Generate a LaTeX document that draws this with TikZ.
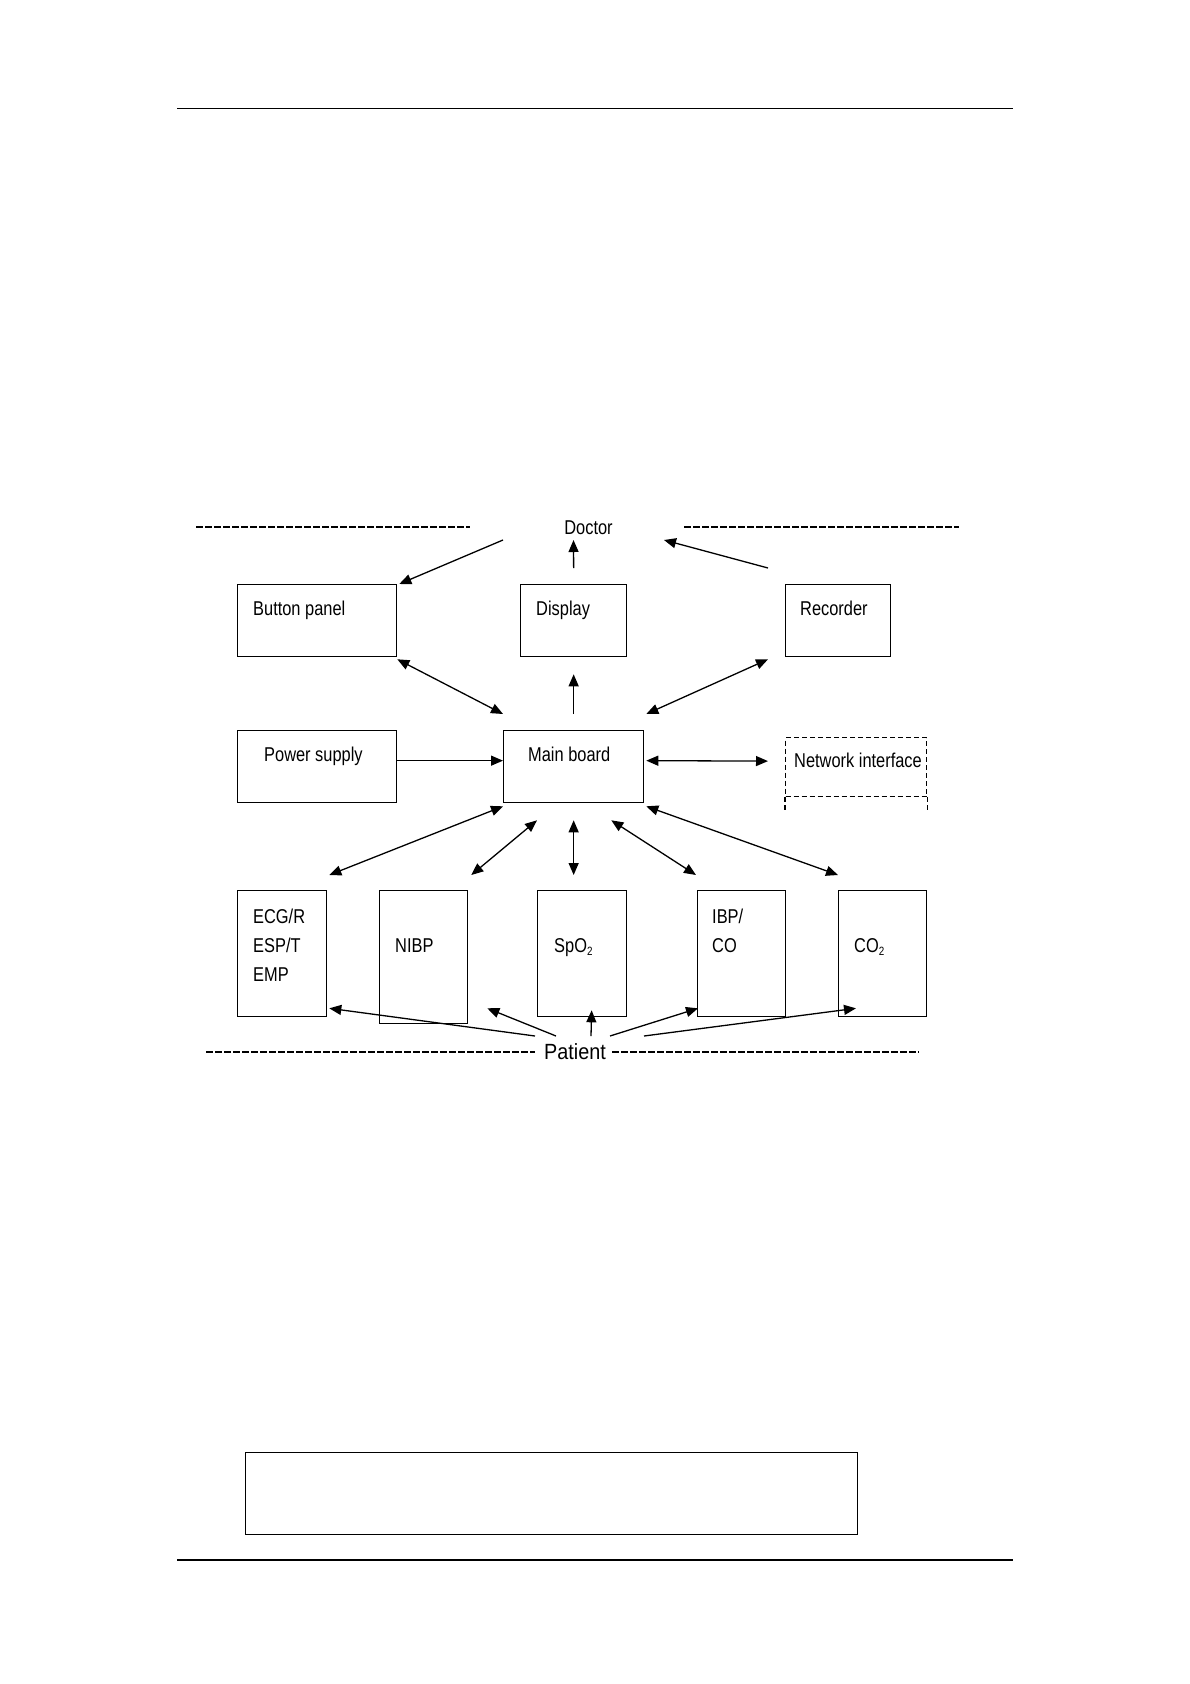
\documentclass[tikz,border=0pt]{standalone}
\usepackage{fontspec}
\setmainfont{Liberation Sans}
\newfontfamily\diagfont[FakeStretch=0.82]{Liberation Sans}
\newfontfamily\patfont[FakeStretch=0.9]{Liberation Sans}
\usetikzlibrary{arrows.meta}
\newcommand{\subtwo}{\raisebox{-3pt}{\fontsize{12}{12}\selectfont 2}}
\begin{document}
\begin{tikzpicture}[x=1pt,y=-1pt]
\tikzset{
 box/.style={draw, line width=1.3pt, anchor=north west, inner sep=0pt},
 lbl/.style={font=\diagfont\fontsize{20}{24}\selectfont, anchor=base west, inner sep=0pt},
 conn/.style={line width=1.3pt, -{Triangle[length=12pt,width=10pt]}},
 dbl/.style={line width=1.3pt, {Triangle[length=12pt,width=10pt]}-{Triangle[length=12pt,width=10pt]}},
 sep/.style={line width=1.3pt, dash pattern=on 7pt off 2pt},
 rule/.style={line width=1.5pt},
}
\useasboundingbox (0,0) rectangle (1190,1684);
\fill[white] (0,0) rectangle (1190,1684);
% page rules and frame
\draw[rule] (177,108.5) -- (1013,108.5);
\draw[rule] (177,1560) -- (1013,1560);
\node[box, line width=1.2pt, minimum width=612pt, minimum height=82pt] (frame) at (245,1452) {};
% boxes
\node[box, minimum width=159pt, minimum height=72pt] (bp) at (237,584) {};
\node[box, minimum width=106pt, minimum height=72pt] (disp) at (520,584) {};
\node[box, minimum width=105pt, minimum height=72pt] (rec) at (785,584) {};
\node[box, minimum width=159pt, minimum height=72pt] (ps) at (237,730) {};
\node[box, minimum width=140pt, minimum height=72pt] (main) at (503,730) {};
\node[box, line width=1.2pt, dash pattern=on 5pt off 3pt, minimum width=141pt, minimum height=59pt] (net) at (785,737) {};
\draw[line width=1.2pt, dash pattern=on 5pt off 3pt] (net.south west) -- ([yshift=-15pt]net.south west);
\draw[line width=1.2pt, dash pattern=on 5pt off 3pt] (net.south east) -- ([yshift=-15pt]net.south east);
\node[box, minimum width=89pt, minimum height=126pt] (ecg) at (237,890) {};
\node[box, minimum width=88pt, minimum height=133pt] (nibp) at (379,890) {};
\node[box, minimum width=89pt, minimum height=126pt] (spo2) at (537,890) {};
\node[box, minimum width=88pt, minimum height=126pt] (ibp) at (697,890) {};
\node[box, minimum width=88pt, minimum height=126pt] (co2) at (838,890) {};
% labels
\node[lbl] (tbp) at (253,615) {Button panel};
\node[lbl] (tdisp) at (536,615) {Display};
\node[lbl] (trec) at (800,615) {Recorder};
\node[lbl] (tps) at (264,761) {Power supply};
\node[lbl] (tmain) at (528,761) {Main board};
\node[lbl] (tnet) at (794,767) {Network interface};
\node[lbl] (tecg1) at (253,923) {ECG/R};
\node[lbl] (tecg2) at (253,952) {ESP/T};
\node[lbl] (tecg3) at (253,981) {EMP};
\node[lbl] (tnibp) at (395,952) {NIBP};
\node[lbl] (tspo) at (554,952) {SpO\subtwo};
\node[lbl] (tibp1) at (712,923) {IBP/};
\node[lbl] (tibp2) at (712,952) {CO};
\node[lbl] (tco2) at (854,952) {CO\subtwo};
\node[lbl, anchor=base] (doctor) at (588.5,534) {Doctor};
\node[font=\patfont\fontsize{22}{26}\selectfont, anchor=base, inner sep=0pt] (patient) at (575,1059) {Patient};
% separators
\draw[sep] (196,527) -- (470,527);
\draw[sep] (684,527) -- (959,527);
\draw[sep] (206,1052) -- (535,1052);
\draw[sep] (612,1052) -- (919,1052);
% free ends near Doctor and Patient
\coordinate (docL) at (503,540);
\coordinate (docM) at (573.5,540);
\coordinate (docR) at (664,540);
\coordinate (patA) at (535,1036);
\coordinate (patB) at (556,1036);
\coordinate (patC) at (591,1036);
\coordinate (patD) at (610,1036);
\coordinate (patE) at (644,1036);
\coordinate (spx) at (main.south |- spo2.north);
% top connectors
\draw[conn] ([yshift=16pt]disp.north) -- (docM);
\draw[conn] (docL) -- ([xshift=2pt]bp.north east);
\draw[conn] ([xshift=-17pt,yshift=16pt]rec.north west) -- (docR);
\draw[dbl] ([yshift=-2pt]bp.south east) -- ([yshift=16pt]main.north west);
\draw[conn] ([yshift=16pt]main.north) -- ([yshift=-17pt]disp.south);
\draw[dbl] ([xshift=2pt,yshift=16pt]main.north east) -- ([xshift=-17pt,yshift=-2pt]rec.south west);
\draw[conn] ([yshift=6pt]ps.east) -- ([yshift=6pt]main.west);
\draw[dbl] ([xshift=2pt,yshift=6pt]main.east) -- ([xshift=-17pt,yshift=6pt]net.west);
% bottom connectors
\draw[dbl] ([yshift=-3pt]main.south west) -- ([xshift=2pt,yshift=15pt]ecg.north east);
\draw[dbl] ([xshift=34pt,yshift=-17pt]main.south west) -- ([xshift=3pt,yshift=15pt]nibp.north east);
\draw[dbl] ([yshift=-17pt]main.south) -- ([yshift=15pt]spx);
\draw[dbl] ([xshift=-33pt,yshift=-17pt]main.south east) -- ([xshift=-1pt,yshift=15pt]ibp.north west);
\draw[dbl] ([xshift=2pt,yshift=-3pt]main.south east) -- ([yshift=15pt]co2.north west);
% patient connectors
\draw[conn] (patA) -- ([xshift=2pt,yshift=9pt]ecg.south east);
\draw[conn] (patB) -- ([xshift=19pt,yshift=16pt]nibp.south east);
\draw[conn] (patC) -- ([xshift=9.5pt,yshift=7pt]spo2.south);
\draw[conn] (patD) -- ([xshift=1pt,yshift=9pt]ibp.south west);
\draw[conn] (patE) -- ([xshift=18pt,yshift=9pt]co2.south west);
\end{tikzpicture}
\end{document}
